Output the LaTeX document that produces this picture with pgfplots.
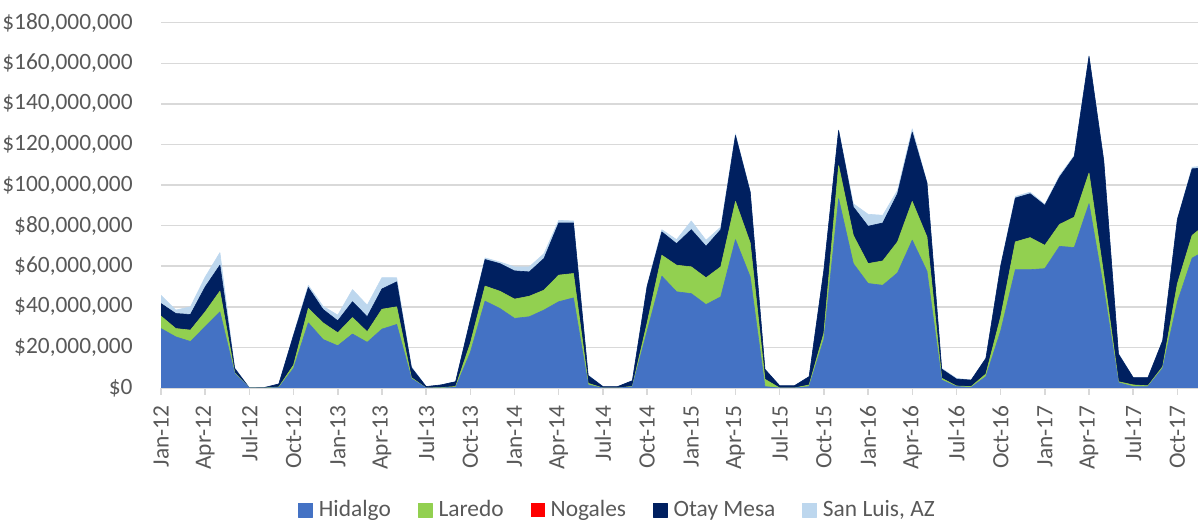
\documentclass[border=0pt]{standalone}
\usepackage{fontspec}
\setmainfont{Carlito}
\usepackage{pgfplots}
\pgfplotsset{compat=1.18}
\usepackage{pgfplotstable}

\definecolor{hidalgo}{HTML}{4472C4}
\definecolor{laredo}{HTML}{92D050}
\definecolor{nogales}{HTML}{FF0000}
\definecolor{otay}{HTML}{002060}
\definecolor{sanluis}{HTML}{BDD7EE}
\definecolor{gridgray}{HTML}{D9D9D9}
\definecolor{textgray}{HTML}{595959}
\newcommand\chartfont{\fontsize{11.7}{14}\selectfont}

% monthly values in millions of dollars, Jan-12 = 0
\pgfplotstableread{
m H L N O S
0 29.3 6.1 0 6.2 4.1
1 25.2 4.1 0 7.4 1.7
2 22.9 5.6 0 7.7 3.8
3 30.2 7.3 0 12.3 4.9
4 37.5 10.2 0 12.8 6.2
5 7.2 0.3 0 2.2 0.2
6 0 0 0 0 0
7 0 0 0 0.2 0
8 0.2 0.3 0 1.5 0
9 9.7 1.6 0 14.7 0.5
10 32.1 7.1 0 10.3 1.1
11 23.9 8.2 0 6.6 1.6
12 20.8 6.4 0 5.9 2.8
13 26.6 8.1 0 7.8 6.0
14 22.5 5.2 0 7.4 5.7
15 29.0 9.8 0 10.0 5.6
16 31.3 8.7 0 12.3 2.0
17 4.6 0.5 0 4.9 0.5
18 0 0 0 0.7 0
19 0 0.2 0 1.3 0
20 0.3 0.4 0 2.4 0
21 17.5 4.5 0 11.5 0.3
22 42.8 7.4 0 13.1 0.8
23 39.2 8.5 0 13.6 0.8
24 34.3 9.5 0 13.9 2.0
25 35.1 10.1 0 12.0 2.5
26 38.4 9.8 0 15.6 2.4
27 42.5 13.1 0 25.7 1.3
28 44.4 12.0 0 24.9 1.0
29 1.5 0.8 0 3.8 0.3
30 0 0 0 0.7 0
31 0 0 0 0.7 0
32 0.6 0.2 0 2.8 0
33 28.0 4.0 0 18.0 0.5
34 55.1 10.3 0 11.5 1.1
35 47.4 13.1 0 10.6 2.0
36 46.5 13.2 0 18.3 4.3
37 41.1 13.2 0 15.5 3.0
38 44.9 14.8 0 18.3 1.3
39 73.1 18.8 0 32.5 0.8
40 54.7 16.8 0 25.0 0.4
41 0.7 3.6 0 4.9 0.1
42 0 0 0 1.1 0
43 0 0 0 1.1 0
44 0.7 0.8 0 4.1 0
45 24.0 3.0 0 31.0 0.3
46 93.3 16.3 0 17.3 0.3
47 61.3 13.9 0 14.0 1.6
48 51.5 9.8 0 18.4 5.9
49 50.6 12.0 0 18.7 3.8
50 56.7 15.3 0 23.7 1.7
51 72.8 19.1 0 34.1 1.7
52 57.5 16.9 0 26.6 0.4
53 3.9 0.9 0 4.5 0.4
54 0.7 0.3 0 3.4 0.4
55 0.3 0.4 0 3.2 0
56 5.6 1.3 0 7.7 0.2
57 28.0 7.0 0 25.0 0.5
58 58.3 13.7 0 21.6 0.8
59 58.3 15.8 0 21.6 0.8
60 58.8 11.5 0 19.7 0.5
61 69.8 10.8 0 23.3 0.8
62 69.2 15.0 0 29.9 0.5
63 90.8 15.1 0 57.5 0.3
64 49.0 7.0 0 56.0 0.4
65 2.6 0.5 0 13.6 0.3
66 0.7 0.8 0 3.6 0
67 0.7 0.4 0 4.0 0
68 9.7 0.8 0 12.8 0.3
69 42.4 9.0 0 31.7 0.3
70 64.0 11.2 0 32.8 0.8
71 68.0 13.0 0 27.5 1.0
}\ports

\begin{document}
\begin{tikzpicture}
\begin{axis}[
    at={(80.5pt,67.5pt)}, anchor=south west,
    scale only axis,
    width=518.5pt, height=182.65pt,
    xmin=0, xmax=70.4,
    ymin=0, ymax=180,
    stack plots=y,
    axis x line*=bottom, axis y line*=left,
    x axis line style={draw=gridgray, line width=0.75pt},
    y axis line style={draw=none},
    ymajorgrids,
    grid style={draw=gridgray, line width=0.75pt},
    tick align=outside,
    major tick length=3.5pt,
    xtick style={draw=gridgray, line width=0.75pt},
    ytick style={draw=none},
    xtick={0,3,...,69},
    xticklabels={Jan-12,Apr-12,Jul-12,Oct-12,Jan-13,Apr-13,Jul-13,Oct-13,Jan-14,Apr-14,Jul-14,Oct-14,Jan-15,Apr-15,Jul-15,Oct-15,Jan-16,Apr-16,Jul-16,Oct-16,Jan-17,Apr-17,Jul-17,Oct-17},
    ytick={0,20,...,180},
    yticklabels={\$0,{\$20,000,000},{\$40,000,000},{\$60,000,000},{\$80,000,000},{\$100,000,000},{\$120,000,000},{\$140,000,000},{\$160,000,000},{\$180,000,000}},
    xticklabel style={font=\chartfont, text=textgray, rotate=90, anchor=east, inner xsep=5pt, inner ysep=0pt},
    yticklabel style={font=\chartfont, text=textgray, anchor=east, inner xsep=10.5pt, inner ysep=0pt},
    legend style={at={(0.4393,-0.334)}, anchor=center, draw=none, fill=none,
        legend columns=-1, font=\chartfont, text=textgray,
        nodes={inner sep=0pt},
        /tikz/every odd column/.append style={column sep=3pt},
        /tikz/every even column/.append style={column sep=13.5pt}},
    legend image code/.code={\fill[#1] (0pt,-3.5pt) rectangle (7pt,3.5pt);},
    every axis plot/.append style={line width=0.3pt, line join=round},
]
\addplot[fill=hidalgo, draw=hidalgo] table[x=m, y=H] {\ports} \closedcycle;
\addplot[fill=laredo, draw=laredo] table[x=m, y=L] {\ports} \closedcycle;
\addplot[fill=nogales, draw=none] table[x=m, y=N] {\ports} \closedcycle;
\addplot[fill=otay, draw=otay] table[x=m, y=O] {\ports} \closedcycle;
\addplot[fill=sanluis, draw=sanluis] table[x=m, y=S] {\ports} \closedcycle;
\legend{Hidalgo, Laredo, Nogales, Otay Mesa, {San Luis, AZ}}
\end{axis}
\pgfresetboundingbox
\path[use as bounding box] (0,0) rectangle (599pt,261.5pt);
\end{tikzpicture}
\end{document}
